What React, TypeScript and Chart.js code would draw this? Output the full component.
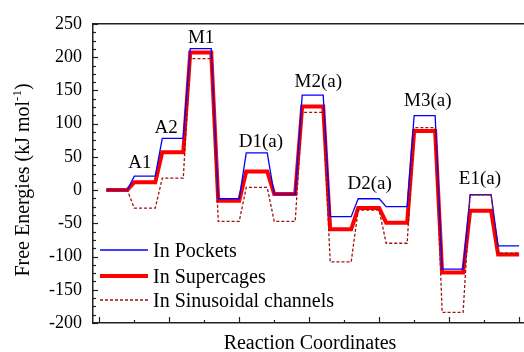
import React, { useEffect, useRef } from "react";
import { Chart, registerables } from "chart.js";

Chart.register(...registerables);

// ---- data ----
const stateNames = ["R", "A1", "A2", "M1", "I1", "D1(a)", "I2", "M2(a)", "I3", "D2(a)", "I4", "M3(a)", "I5", "E1(a)", "P"];
const pockets = [0, 21, 78, 213, -13, 56, -6, 143, -40, -13, -25, 112, -119, -7, -84];
const supercages = [0, 12, 57, 207, -16, 28, -6, 126, -59, -27, -49, 89, -124, -31, -97];
const sinusoidal = [0, -27, 18, 198, -47, 4, -47, 117, -108, -30, -80, 94, -184, -7, -95];

const seriesNames = ["In Pockets", "In Supercages", "In Sinusoidal channels"];

const labelText = ["A1", "A2", "M1", "D1(a)", "M2(a)", "D2(a)", "M3(a)", "E1(a)"];
const labelX = [1.16, 1.91, 2.91, 4.62, 6.26, 7.73, 9.39, 10.88];
const labelY = [33, 86, 221, 65, 155, 2, 127, 9];

const yMin = -200;
const yMax = 250;
const yStep = 50;
const yMinorStep = 12.5;
const xTickCount = 13;

// ---- layout constants ----
const STATE_START = 0.2;
const STATE_PITCH = 0.8;
const STATE_WIDTH = 0.6;
const FONT = '"Liberation Serif", "Times New Roman", serif';

function steps(values: number[]) {
  const pts: { x: number; y: number }[] = [];
  values.forEach((v, i) => {
    const x0 = STATE_START + STATE_PITCH * i;
    pts.push({ x: x0, y: v });
    pts.push({ x: x0 + STATE_WIDTH, y: v });
  });
  return pts;
}

const colors = ["#0000ff", "#ff0000", "#a01010"];
const widths = [1.3, 4, 1.3];
const dashes: number[][] = [[], [], [3, 2]];

const decor = {
  id: "decor",
  afterDraw(chart: any) {
    const { ctx, chartArea: a, scales } = chart;
    const xs = scales.x;
    const ys = scales.y;
    ctx.save();
    // tick marks (inward)
    ctx.strokeStyle = "#222";
    ctx.lineWidth = 1.2;
    for (let v = yMin; v <= yMax + 0.001; v += yMinorStep) {
      const py = Math.round(ys.getPixelForValue(v)) + 0.5;
      const major = Math.abs(v % yStep) < 0.001;
      ctx.beginPath();
      ctx.moveTo(a.left, py);
      ctx.lineTo(a.left + (major ? 5 : 3), py);
      ctx.stroke();
    }
    for (let k = 0; k < xTickCount; k++) {
      const px = Math.round(xs.getPixelForValue(k)) + 0.5;
      const major = k % 2 === 0;
      ctx.beginPath();
      ctx.moveTo(px, a.bottom);
      ctx.lineTo(px, a.bottom - (major ? 6 : 3));
      ctx.stroke();
    }

    // state labels
    ctx.fillStyle = "#000";
    ctx.font = `19px ${FONT}`;
    ctx.textAlign = "center";
    ctx.textBaseline = "alphabetic";
    labelText.forEach((t, i) => {
      ctx.fillText(t, xs.getPixelForValue(labelX[i]), ys.getPixelForValue(labelY[i]));
    });

    // legend
    const lx0 = 100, lx1 = 148;
    const rows = [250, 276, 300];
    ctx.font = `20px ${FONT}`;
    ctx.textAlign = "left";
    rows.forEach((ry, i) => {
      ctx.save();
      ctx.strokeStyle = colors[i];
      ctx.lineWidth = widths[i];
      ctx.setLineDash(dashes[i]);
      ctx.beginPath();
      ctx.moveTo(lx0, ry);
      ctx.lineTo(lx1, ry);
      ctx.stroke();
      ctx.restore();
      ctx.fillStyle = "#000";
      ctx.fillText(seriesNames[i], 153, ry + 7);
    });

    // x title
    ctx.textAlign = "center";
    ctx.font = `20px ${FONT}`;
    ctx.fillText("Reaction Coordinates", 310, 349);

    // y title with superscript
    const main = "Free Energies (kJ mol";
    const sup = "-1";
    const close = ")";
    ctx.font = `20px ${FONT}`;
    const wMain = ctx.measureText(main).width;
    const wClose = ctx.measureText(close).width;
    ctx.font = `13px ${FONT}`;
    const wSup = ctx.measureText(sup).width;
    const total = wMain + wSup + wClose;
    ctx.translate(28.5, 180);
    ctx.rotate(-Math.PI / 2);
    ctx.textAlign = "left";
    let u = -total / 2;
    ctx.font = `20px ${FONT}`;
    ctx.fillText(main, u, 0);
    u += wMain;
    ctx.font = `13px ${FONT}`;
    ctx.fillText(sup, u, -8);
    u += wSup;
    ctx.font = `20px ${FONT}`;
    ctx.fillText(close, u, 0);
    ctx.restore();
  },
};

export default function App() {
  const ref = useRef<HTMLCanvasElement | null>(null);
  useEffect(() => {
    if (!ref.current) return;
    const series = [pockets, supercages, sinusoidal];
    const drawOrder = [1, 2, 0];
    const chart = new Chart(ref.current, {
      type: "line",
      data: {
        datasets: series.map((vals, i) => ({
          label: seriesNames[i],
          data: steps(vals),
          borderColor: colors[i],
          backgroundColor: colors[i],
          borderWidth: widths[i],
          borderDash: dashes[i],
          pointRadius: 0,
          tension: 0,
          fill: false,
          order: drawOrder[i],
        })),
      },
      options: {
        animation: false,
        responsive: true,
        maintainAspectRatio: false,
        layout: { padding: { left: 0, right: 0, top: 24, bottom: 29 } },
        plugins: { legend: { display: false }, tooltip: { enabled: false } },
        events: [],
        scales: {
          x: {
            type: "linear",
            position: "bottom",
            min: -0.18,
            max: 12.14,
            ticks: { display: false },
            grid: { display: false, drawTicks: false },
            border: { display: true, color: "#222", width: 1.5 },
            afterFit: (s: any) => {
              s.height = 0;
            },
          },
          xTop: {
            type: "linear",
            position: "top",
            min: -0.18,
            max: 12.14,
            ticks: { display: false },
            grid: { display: false, drawTicks: false },
            border: { display: true, color: "#222", width: 1.5 },
            afterFit: (s: any) => {
              s.height = 0;
            },
          },
          y: {
            type: "linear",
            position: "left",
            min: yMin,
            max: yMax,
            ticks: {
              stepSize: yStep,
              padding: 11,
              color: "#000",
              font: { family: FONT, size: 18 },
            },
            grid: { display: false, drawTicks: false },
            border: { display: true, color: "#222", width: 1.5 },
            afterFit: (s: any) => {
              s.width = 93;
            },
          },
        },
      },
      plugins: [decor],
    });
    return () => chart.destroy();
  }, []);
  return (
    <div style={{ position: "fixed", left: 0, top: 0, width: 524, height: 352, background: "#fff" }}>
      <canvas ref={ref} />
    </div>
  );
}
